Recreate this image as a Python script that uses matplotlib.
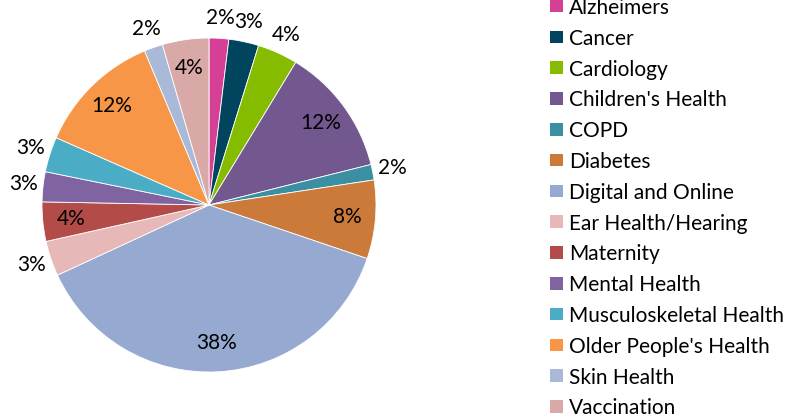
import matplotlib
matplotlib.use("Agg")
import matplotlib.pyplot as plt
from matplotlib.patches import Rectangle
import numpy as np

# Share of projects by clinical area (percent), clockwise from 12 o'clock
areas = [
    "Alzheimers", "Cancer", "Cardiology", "Children's Health", "COPD",
    "Diabetes", "Digital and Online", "Ear Health/Hearing", "Maternity",
    "Mental Health", "Musculoskeletal Health", "Older People's Health",
    "Skin Health", "Vaccination",
]
shares = [1.9, 2.9, 3.9, 12.4, 1.5, 7.6, 37.9, 3.4, 3.8, 2.9, 3.4, 12.1, 1.8, 4.5]
colors = [
    "#D63F96", "#00445E", "#86BC00", "#72588F", "#3A8FA3", "#CC7A3A",
    "#95A9D1", "#E6B8B7", "#B34B48", "#8064A2", "#4BACC6", "#F79646",
    "#AAB9D8", "#D9A9A8",
]
# which labels sit inside the wedge, the rest go just outside the rim
inside = [False, False, False, True, False, True, True, False, True,
          False, False, True, False, True]

plt.rcParams["font.family"] = ["Lato", "DejaVu Sans"]
W, H = 796, 418
fig = plt.figure(figsize=(W / 100, H / 100), dpi=100)

cx, cy, r = 209, 205, 167
ax = fig.add_axes([(cx - r) / W, (H - cy - r) / H, 2 * r / W, 2 * r / H])
wedges, _ = ax.pie(shares, colors=colors, startangle=90, counterclock=False,
                   wedgeprops=dict(edgecolor="white", linewidth=0.6))
ax.set_xlim(-1, 1)
ax.set_ylim(-1, 1)
ax.set_aspect("equal")
ax.axis("off")

total = sum(shares)
for w, val, ins in zip(wedges, shares, inside):
    mid = np.deg2rad((w.theta1 + w.theta2) / 2)
    dist = 0.83 if ins else 1.12
    ax.text(dist * np.cos(mid), dist * np.sin(mid), f"{100 * val / total:.0f}%",
            ha="center", va="center", fontsize=15, color="black", clip_on=False)

# legend drawn row by row so spacing can run off the top edge
row0, pitch = H - 6, 30.8
for i, (name, col) in enumerate(zip(areas, colors)):
    yc = row0 - i * pitch
    fig.patches.append(Rectangle((550 / W, (yc - 6.4) / H), 12.7 / W, 12.7 / H,
                                 transform=fig.transFigure, facecolor=col,
                                 edgecolor="none"))
    fig.text(569 / W, yc / H, name, ha="left", va="center_baseline",
             fontsize=15, color="black")

fig.savefig("out.png", dpi=100)
